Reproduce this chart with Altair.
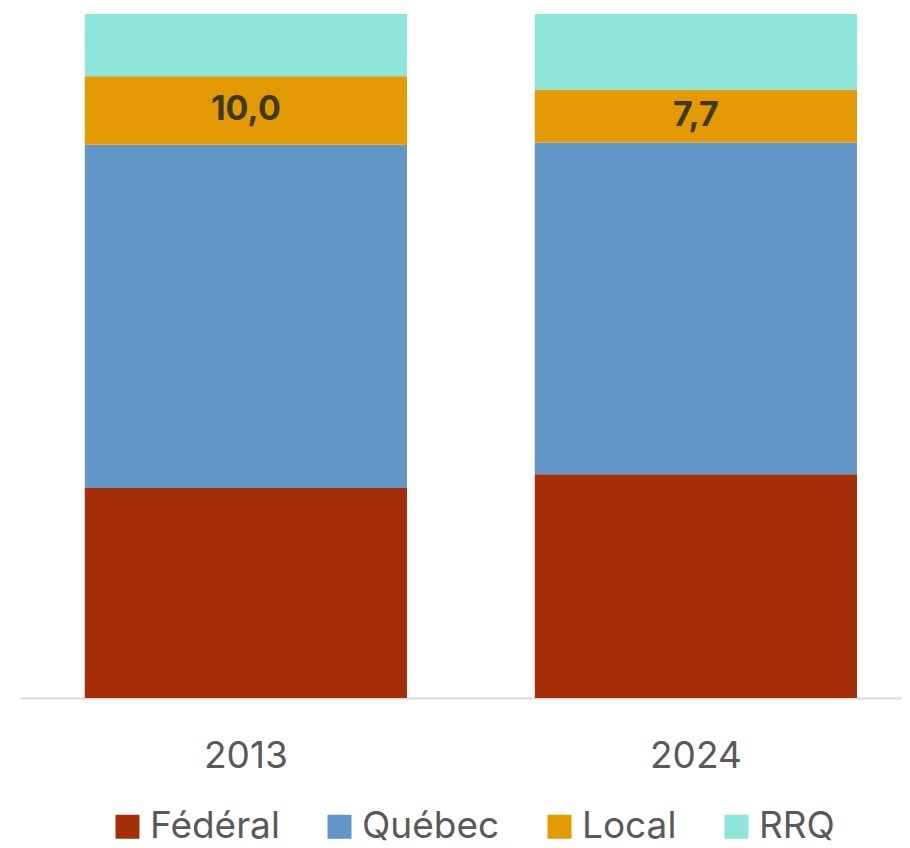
import altair as alt
import pandas as pd

years = ["2013", "2024"]
categories = ["Fédéral", "Québec", "Local", "RRQ"]
colors = ["#a32e07", "#6196c6", "#e49a03", "#8ee5da"]
values_2013 = [30.7, 50.2, 10.0, 9.1]
values_2024 = [32.7, 48.5, 7.7, 11.1]

rows = []
for year, vals in zip(years, [values_2013, values_2024]):
    for i, (cat, v) in enumerate(zip(categories, vals)):
        rows.append({"year": year, "cat": cat, "idx": i, "value": v})
df = pd.DataFrame(rows)

FONT = "Inter"

base = alt.Chart(df).transform_stack(
    stack="value", groupby=["year"], as_=["y0", "y1"],
    sort=[alt.SortField("idx", order="ascending")]
).transform_calculate(
    mid="(datum.y0 + datum.y1) / 2",
    lbl="replace(format(datum.value, '.1f'), '.', ',')"
)

xenc = alt.X(
    "year:N", title=None, sort=years,
    scale=alt.Scale(paddingInner=0.284, paddingOuter=0.122, align=0.59),
    axis=alt.Axis(labelAngle=0, labelFont=FONT, labelFontSize=37, labelColor="#595959",
                  domainColor="#d9d9d9", domainWidth=2, ticks=False, grid=False,
                  labelBaseline="alphabetic", labelPadding=69),
)
yscale = alt.Scale(domain=[0, 100], nice=False)

bars = base.mark_bar().encode(
    x=xenc,
    y=alt.Y("y0:Q", scale=yscale, axis=None),
    y2="y1:Q",
    color=alt.Color(
        "cat:N", sort=categories, title=None,
        scale=alt.Scale(domain=categories, range=colors),
        legend=alt.Legend(orient="none", direction="horizontal", legendX=89, legendY=794,
                          symbolType="square", symbolSize=576, symbolStrokeWidth=0,
                          labelFont=FONT, labelFontSize=37, labelColor="#595959",
                          labelOffset=4, columnPadding=41, padding=0, labelLimit=400),
    ),
)

labels = base.transform_filter(alt.datum.cat == "Local").mark_text(
    font=FONT, fontSize=34, fontWeight="bold", color="#403a1c", baseline="middle"
).encode(
    x=alt.X("year:N", sort=years),
    y=alt.Y("mid:Q", scale=yscale, axis=None),
    text="lbl:N",
)

chart = alt.layer(bars, labels).properties(
    width=882, height=684,
    autosize=alt.AutoSizeParams(type="none"),
    padding={"left": 12, "top": 6, "right": 0, "bottom": 148},
).configure_view(stroke=None)

chart.save("out.html", embed_options={"renderer": "svg", "actions": False})
